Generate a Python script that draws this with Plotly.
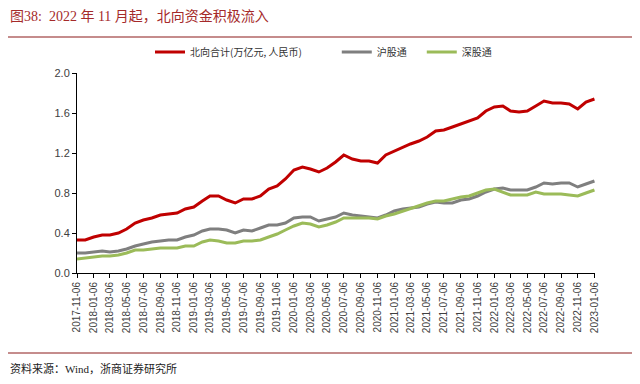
import pandas as pd
import plotly.graph_objects as go

# monthly observation dates (6th of each month, 2017-11 .. 2023-01)
dates = [d + pd.Timedelta(days=5) for d in pd.date_range("2017-11-01", "2023-01-01", freq="MS")]

north_total = [0.33, 0.33, 0.36, 0.38, 0.38, 0.40, 0.44, 0.50, 0.53, 0.55,
               0.58, 0.59, 0.60, 0.64, 0.66, 0.72, 0.77, 0.77, 0.73, 0.70,
               0.74, 0.74, 0.77, 0.84, 0.87, 0.94, 1.03, 1.06, 1.04, 1.01,
               1.05, 1.11, 1.18, 1.14, 1.12, 1.12, 1.10, 1.18, 1.22, 1.26,
               1.29, 1.32, 1.36, 1.42, 1.43, 1.46, 1.49, 1.52, 1.55, 1.62,
               1.66, 1.67, 1.62, 1.61, 1.62, 1.67, 1.72, 1.70, 1.70, 1.69,
               1.64, 1.71, 1.74]
shanghai = [0.20, 0.20, 0.21, 0.22, 0.21, 0.22, 0.24, 0.27, 0.29, 0.31,
            0.32, 0.33, 0.33, 0.36, 0.38, 0.42, 0.44, 0.44, 0.43, 0.40,
            0.43, 0.42, 0.45, 0.48, 0.48, 0.50, 0.55, 0.56, 0.56, 0.52,
            0.54, 0.56, 0.60, 0.58, 0.57, 0.56, 0.55, 0.58, 0.62, 0.64,
            0.65, 0.66, 0.69, 0.71, 0.70, 0.70, 0.73, 0.74, 0.77, 0.81,
            0.84, 0.85, 0.83, 0.83, 0.83, 0.86, 0.90, 0.89, 0.90, 0.90,
            0.86, 0.89, 0.92]
shenzhen = [0.14, 0.15, 0.16, 0.17, 0.17, 0.18, 0.20, 0.23, 0.23, 0.24,
            0.25, 0.25, 0.25, 0.27, 0.27, 0.31, 0.33, 0.32, 0.30, 0.30,
            0.32, 0.32, 0.33, 0.36, 0.39, 0.43, 0.47, 0.50, 0.49, 0.46,
            0.48, 0.51, 0.55, 0.55, 0.55, 0.55, 0.54, 0.57, 0.59, 0.62,
            0.64, 0.67, 0.70, 0.72, 0.72, 0.74, 0.76, 0.77, 0.80, 0.83,
            0.84, 0.81, 0.78, 0.78, 0.78, 0.81, 0.79, 0.79, 0.79, 0.78,
            0.77, 0.80, 0.83]

series_names = ["北向合计(万亿元, 人民币)", "沪股通", "深股通"]
series_colors = ["#C00000", "#7F7F7F", "#9BBB59"]
legend_pad = ["\u2002" * 6, "\u2002\u2002", ""]

tick_dates = [d + pd.Timedelta(days=5) for d in pd.date_range("2017-11-01", "2023-01-01", freq="2MS")]
tick_text = [d.strftime("%Y-%m-%d") for d in tick_dates]

y_ticks = [0.0, 0.4, 0.8, 1.2, 1.6, 2.0]

title_text = "图38:  2022 年 11 月起，北向资金积极流入"
source_text = "资料来源：Wind，浙商证券研究所"

font_main = "Liberation Serif, Noto Sans CJK SC, serif"
font_axis = "Liberation Sans, Arial, sans-serif"

# page body has an 8px default margin; offset the layout to compensate
OFF = 8
L, T, PW, PH = 77 - OFF, 73 - OFF, 518, 200

def px(x):
    return (x - 77) / PW

def py(y):
    return (273 - y) / PH

fig = go.Figure()
for name, pad, vals, col in zip(series_names, legend_pad, [north_total, shanghai, shenzhen], series_colors):
    fig.add_trace(go.Scatter(x=dates, y=vals, mode="lines", name=name + pad,
                             line=dict(color=col, width=3)))

fig.update_layout(
    width=640, height=384,
    margin=dict(l=L, r=640 - L - PW, t=T, b=384 - T - PH, autoexpand=False),
    paper_bgcolor="white", plot_bgcolor="white",
    showlegend=True,
    legend=dict(orientation="h", x=px(150), y=py(52), xanchor="left", yanchor="middle",
                font=dict(family="Noto Sans CJK SC", size=10, color="#333333"),
                bgcolor="rgba(0,0,0,0)", itemwidth=30, tracegroupgap=0),
    font=dict(family=font_axis, size=11, color="#404040"),
)

fig.update_xaxes(
    type="date",
    range=[pd.Timestamp("2017-11-06"), pd.Timestamp("2023-01-08")],
    tickvals=tick_dates, ticktext=tick_text, tickangle=-90,
    tickfont=dict(size=10, color="#404040", family=font_axis),
    showgrid=False, zeroline=False,
    showline=True, linecolor="black", linewidth=1,
    ticks="outside", ticklen=4, tickcolor="black",
)
fig.update_yaxes(
    range=[0, 2.0], tickvals=y_ticks, tickformat=".1f",
    tickfont=dict(size=11, color="#404040", family=font_axis),
    showgrid=False, zeroline=False,
    showline=True, linecolor="black", linewidth=1,
    ticks="outside", ticklen=4, tickcolor="black",
)

# title, header rule, footer rule, source
fig.add_annotation(text=title_text, xref="paper", yref="paper",
                   x=px(8), y=py(17), xanchor="left", yanchor="middle",
                   showarrow=False, font=dict(family=font_main, size=14, color="#A52A2A"))
fig.add_shape(type="line", xref="paper", yref="paper",
              x0=px(8), x1=px(632), y0=py(37), y1=py(37),
              line=dict(color="#8B1A1A", width=1.2))
fig.add_shape(type="line", xref="paper", yref="paper",
              x0=px(8), x1=px(632), y0=py(353), y1=py(353),
              line=dict(color="#8B1A1A", width=1))
fig.add_annotation(text=source_text, xref="paper", yref="paper",
                   x=px(8), y=py(368), xanchor="left", yanchor="middle",
                   showarrow=False, font=dict(family=font_main, size=11, color="#222222"))

fig.write_html("out.html")
